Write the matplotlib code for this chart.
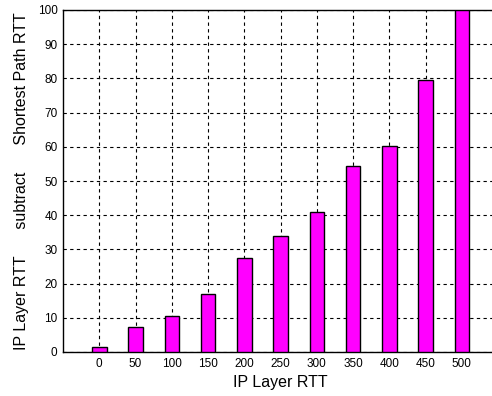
import numpy as np
import matplotlib
matplotlib.use("Agg")
from matplotlib import pyplot as plt

plt.rcParams['font.family'] = ['Liberation Sans', 'DejaVu Sans']

ip_rtt = [0, 50, 100, 150, 200, 250, 300, 350, 400, 450, 500]
diff = [1.5, 7.4, 10.4, 17.0, 27.5, 33.8, 41.0, 54.5, 60.3, 79.6, 100.0]

fig = plt.figure(figsize=(4.92, 3.96), dpi=100)
# axes runs past the right edge, like the cropped original
ax = fig.add_axes([63/492, 44/396, 435/492, 342/396])

ax.bar(ip_rtt, diff, width=20, color='#ff00ff', edgecolor='black', linewidth=1, zorder=3)

ax.set_xlim(-50, 550)
ax.set_ylim(0, 100)
ax.set_xticks(ip_rtt)
ax.set_yticks(np.arange(0, 101, 10))
ax.grid(True, color='black', linestyle=(0, (3, 3)), linewidth=0.8, zorder=0)
ax.tick_params(labelsize=8.5, length=0, pad=4)
for s in ax.spines.values():
    s.set_linewidth(1)

ax.set_xlabel('IP Layer RTT', fontsize=11.5, labelpad=4)
ax.set_ylabel('IP Layer RTT      subtract      Shortest Path RTT', fontsize=11.5, labelpad=6)

fig.savefig('out.png', dpi=100)
